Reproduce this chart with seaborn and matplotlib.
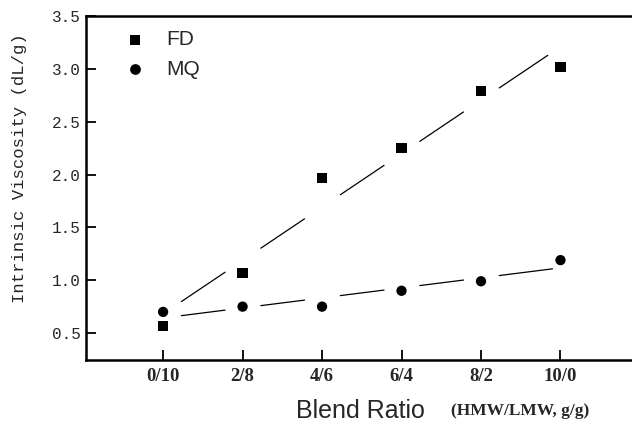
import numpy as np
import pandas as pd
import matplotlib
matplotlib.use("Agg")
import matplotlib.pyplot as plt
import seaborn as sns
from matplotlib.ticker import MultipleLocator

categories = ["0/10", "2/8", "4/6", "6/4", "8/2", "10/0"]
fd_values = [0.57, 1.07, 1.97, 2.25, 2.79, 3.02]
mq_values = [0.70, 0.75, 0.75, 0.90, 0.99, 1.19]
yticks = [0.5, 1.0, 1.5, 2.0, 2.5, 3.0, 3.5]

sns.set_theme(style="white")
plt.rcParams["font.family"] = ["Liberation Sans", "DejaVu Sans"]

xpos = np.arange(len(categories))
df = pd.DataFrame({
    "x": np.concatenate([xpos, xpos]),
    "y": fd_values + mq_values,
    "series": ["FD"] * len(categories) + ["MQ"] * len(categories),
})

fig = plt.figure(figsize=(6.32, 4.22), dpi=100)
ax = fig.add_axes([86 / 632, 1 - 360 / 422, 1 - 86 / 632, (360 - 16) / 422])

sns.scatterplot(data=df, x="x", y="y", style="series", markers={"FD": "s", "MQ": "o"},
                color="black", s=55, edgecolor="black", linewidth=0, ax=ax, legend=False, zorder=3)

# broken linear fit lines (gaps around each marker)
for vals, last_gap in ((fd_values, 0.16), (mq_values, 0.1)):
    k, b = np.polyfit(xpos, vals, 1)
    n = len(xpos)
    for i in range(n - 1):
        x0 = xpos[i] + 0.23
        x1 = xpos[i + 1] - (last_gap if i == n - 2 else 0.22)
        xs = np.array([x0, x1])
        ax.plot(xs, k * xs + b, color="black", lw=0.9, zorder=2)

# legend
hs = ax.scatter([], [], marker="s", color="black", s=50, linewidth=0)
hc = ax.scatter([], [], marker="o", color="black", s=60, linewidth=0)
ax.legend([hs, hc], ["FD", "MQ"], loc="upper left", bbox_to_anchor=(0.036, 0.983),
          frameon=False, fontsize=15, handletextpad=0.5, labelspacing=0.5,
          borderaxespad=0, scatterpoints=1)

ax.set_xlim(-0.97, 5.9)
ax.set_ylim(0.245, 3.5)
ax.set_xticks(xpos)
ax.set_xticklabels(categories, fontfamily="Liberation Serif", fontweight="bold", fontsize=13.5)
ax.set_yticks(yticks)
ax.set_yticklabels([f"{v:.1f}" for v in yticks], fontfamily="Liberation Mono", fontsize=11.5)
ax.yaxis.set_minor_locator(MultipleLocator(0.25))
ax.tick_params(axis="y", which="major", direction="in", length=7, width=1.3, color="black", pad=4)
ax.tick_params(axis="y", which="minor", direction="in", length=4, width=1.1, color="black")
ax.tick_params(axis="x", which="major", direction="in", length=7, width=1.3, color="black", pad=6, bottom=True)
ax.tick_params(axis="x", which="minor", bottom=False)
ax.tick_params(left=True)

for side in ("left", "top", "bottom"):
    ax.spines[side].set_visible(True)
    ax.spines[side].set_color("black")
    ax.spines[side].set_linewidth(1.8)
ax.spines["right"].set_visible(False)

ax.set_xlabel("")
ax.set_ylabel("")
fig.text(20 / 632, 1 - 168 / 422, "Intrinsic Viscosity (dL/g)", rotation=90,
         fontfamily="Liberation Mono", fontsize=12.4, ha="center", va="center")
fig.text(360 / 632, 1 - 411 / 422, "Blend Ratio", fontfamily="Liberation Sans",
         fontsize=18, ha="center", va="center")
fig.text(520 / 632, 1 - 411 / 422, "(HMW/LMW, g/g)", fontfamily="Liberation Serif",
         fontweight="bold", fontsize=12.5, ha="center", va="center")

fig.savefig("out.png", dpi=100)
